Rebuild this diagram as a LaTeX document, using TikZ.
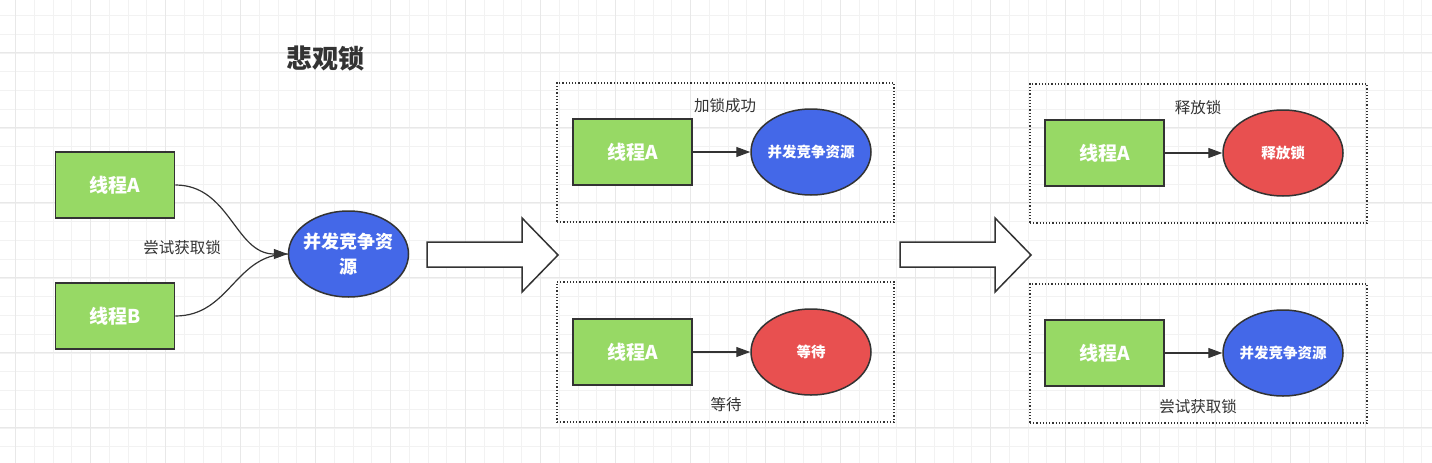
\documentclass[tikz,border=0pt]{standalone}
\usepackage{fontspec}
\setmainfont{Noto Sans CJK SC}
\usetikzlibrary{arrows.meta,shapes.geometric}
\definecolor{gline}{HTML}{333333}
\definecolor{gfill}{HTML}{97D965}
\definecolor{bfill}{HTML}{4468E8}
\definecolor{rfill}{HTML}{E85050}
\definecolor{gridminor}{HTML}{F2F2F2}
\definecolor{gridmajor}{HTML}{E8E8E8}
\tikzset{
  thread/.style={draw=gline,line width=1.6pt,fill=gfill,minimum width=119pt,minimum height=66pt,inner sep=0pt,text=white,font=\fontsize{19}{21}\selectfont\bfseries},
  res/.style={ellipse,draw=gline,line width=1.5pt,minimum width=120pt,minimum height=86pt,inner xsep=-25pt,inner ysep=0pt,text=white,font=\fontsize{14.5}{16}\selectfont\bfseries},
  blue/.style={fill=bfill},
  red/.style={fill=rfill},
  lbl/.style={text=gline,font=\fontsize{15.5}{17}\selectfont,inner sep=0pt},
  grp/.style={draw=gline,line width=1.2pt,dotted},
  conn/.style={draw=gline,line width=1.2pt,-{Triangle[length=14pt,width=10pt]}},
  block/.style={draw=gline,line width=1.5pt,fill=white,line join=miter},
}
\begin{document}
\begin{tikzpicture}[x=1pt,y=-1pt]
\fill[white] (0,0) rectangle (1432,463);
\useasboundingbox (0,0) rectangle (1432,463);
% grid
\foreach \k in {0,...,76}{
  \pgfmathsetmacro\gx{15.7+18.75*\k}
  \draw[gridminor,line width=1pt] (\gx,0) -- (\gx,463);
}
\foreach \k in {0,...,24}{
  \pgfmathsetmacro\gy{15.7+18.75*\k}
  \draw[gridminor,line width=1pt] (0,\gy) -- (1432,\gy);
}
\foreach \k in {0,...,19}{
  \pgfmathsetmacro\gx{15.7+75*\k}
  \draw[gridmajor,line width=1pt] (\gx,0) -- (\gx,463);
}
\foreach \k in {0,...,6}{
  \pgfmathsetmacro\gy{52.7+75*\k}
  \draw[gridmajor,line width=1pt] (0,\gy) -- (1432,\gy);
}

% title
\node[text=gline,font=\fontsize{26}{28}\selectfont\bfseries] (title) at (325,58) {悲观锁};

% left part
\node[thread] (ta) at (115,185) {线程A};
\node[thread] (tb) at (115,316) {线程B};
\node[res,blue,font=\fontsize{18}{25}\selectfont\bfseries,align=center] (r0) at (348.5,254) {并发竞争资\\源};
\draw[conn] (ta.east) .. controls (230,185) and (235,254) .. (r0.west);
\draw[draw=gline,line width=1.2pt] (tb.east) .. controls (230,316) and (235,254) .. (r0.west);
\node[lbl] (l0) at (182,248) {尝试获取锁};

% block arrows
\node[inner sep=0pt,minimum size=0pt] (ba1) at (492,255) {};
\draw[block] (427,242) -- (522,242) -- (522,218) -- (558,255) -- (522,292) -- (522,267) -- (427,267) -- cycle;
\node[inner sep=0pt,minimum size=0pt] (ba2) at (965,255) {};
\draw[block] (900,242) -- (995,242) -- (995,218) -- (1031,255) -- (995,292) -- (995,267) -- (900,267) -- cycle;

% group 1
\node[grp,minimum width=337pt,minimum height=139pt,inner sep=0pt] (g1) at (725.5,152.5) {};
\node[thread] (t1) at (632.5,152) {线程A};
\node[res,blue] (r1) at (811,152) {并发竞争资源};
\draw[conn] (t1.east) -- (r1.west);
\node[lbl] (l1) at (725,106) {加锁成功};

% group 2
\node[grp,minimum width=337pt,minimum height=140pt,inner sep=0pt] (g2) at (725.5,352) {};
\node[thread] (t2) at (632.5,352) {线程A};
\node[res,red] (r2) at (811,352) {等待};
\draw[conn] (t2.east) -- (r2.west);
\node[lbl] (l2) at (726,405) {等待};

% group 3
\node[grp,minimum width=337pt,minimum height=139pt,inner sep=0pt] (g3) at (1198.5,153.5) {};
\node[thread] (t3) at (1104.5,153) {线程A};
\node[res,red] (r3) at (1283,153) {释放锁};
\draw[conn] (t3.east) -- (r3.west);
\node[lbl] (l3) at (1198,108) {释放锁};

% group 4
\node[grp,minimum width=337pt,minimum height=139pt,inner sep=0pt] (g4) at (1198.5,353.5) {};
\node[thread] (t4) at (1104.5,353) {线程A};
\node[res,blue] (r4) at (1283,353) {并发竞争资源};
\draw[conn] (t4.east) -- (r4.west);
\node[lbl] (l4) at (1198,407) {尝试获取锁};
\end{tikzpicture}
\end{document}
